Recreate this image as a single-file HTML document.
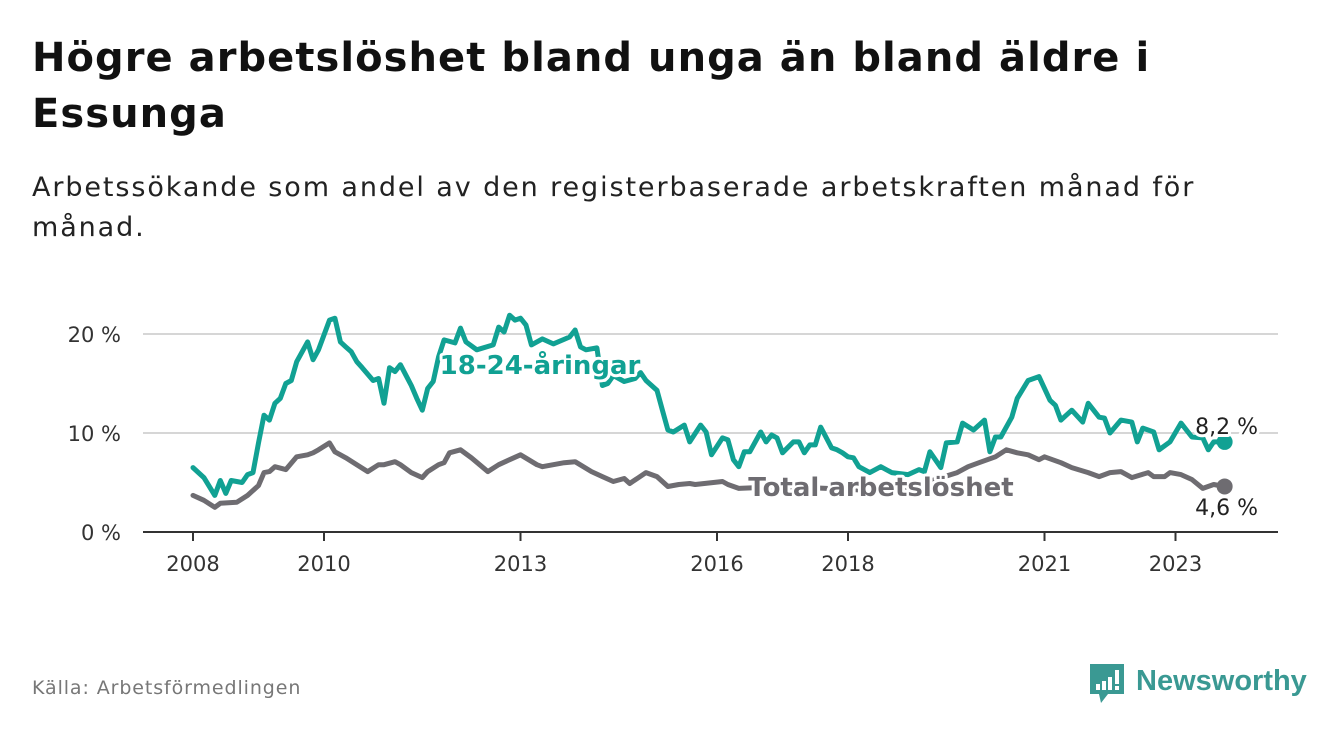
<!DOCTYPE html>
<html><head><meta charset="utf-8">
<style>
body{margin:0;width:1340px;height:734px;background:#fff;font-family:"DejaVu Sans",sans-serif;overflow:hidden;position:relative}
h1{position:absolute;left:32px;top:30px;margin:0;font-size:40px;line-height:56px;font-weight:bold;color:#111;letter-spacing:1.05px;white-space:nowrap}
.sub{position:absolute;left:32px;top:168px;font-size:27px;line-height:40px;color:#222;letter-spacing:1.9px;white-space:nowrap}
.src{position:absolute;left:32px;top:677px;font-size:19px;color:#777;letter-spacing:0.9px}
svg{position:absolute;left:0;top:0}
</style></head><body>
<h1>Högre arbetslöshet bland unga än bland äldre i<br>Essunga</h1>
<div class="sub">Arbetssökande som andel av den registerbaserade arbetskraften månad för<br>månad.</div>
<div class="src">Källa: Arbetsförmedlingen</div>
<svg id="chart" width="1340" height="734"></svg>
<svg width="1340" height="734">
<path d="M1090 664 h34 v30 h-16 l-7 9 l-2 -9 h-9 z" fill="#3a9993"/>
<rect x="1096" y="684" width="4" height="6" fill="#fff"/><rect x="1102" y="681" width="4" height="9" fill="#fff"/><rect x="1108" y="677" width="4" height="13" fill="#fff"/><rect x="1115" y="670" width="4" height="14" fill="#fff"/><rect x="1115" y="686" width="4" height="4" fill="#fff"/>
<text x="1136" y="690" font-family="Liberation Sans" font-size="29" font-weight="bold" fill="#3a9993">Newsworthy</text>
</svg>
<script>
const youthMonths=[0,2,4,5,6,7,9,10,11,12,13,14,15,16,17,18,19,21,22,23,25,26,27,28,29,30,31,33,34,35,36,37,38,40,41,42,43,44,45,46,48,49,50,52,55,56,57,58,59,60,61,62,64,66,69,70,71,72,74,75,76,77,79,81,82,83,85,86,87,88,90,91,93,94,95,97,98,99,100,101,102,104,105,106,107,108,110,111,112,113,114,115,117,118,119,120,121,122,124,126,128,131,133,134,135,137,138,140,141,143,145,146,147,148,150,151,153,155,157,158,159,160,161,163,164,166,167,168,170,172,173,174,176,177,179,181,183,185,186,187,189];
const youthValues=[6.5,5.5,3.7,5.2,3.9,5.2,5.0,5.8,6.0,9.0,11.8,11.3,13.0,13.5,15.0,15.3,17.2,19.2,17.4,18.4,21.4,21.6,19.2,18.7,18.2,17.2,16.6,15.3,15.5,13.0,16.6,16.2,16.9,14.8,13.5,12.3,14.5,15.2,17.7,19.4,19.1,20.6,19.2,18.4,18.9,20.7,20.2,21.9,21.4,21.6,20.9,18.9,19.5,19.0,19.7,20.4,18.7,18.4,18.6,14.8,15.0,15.8,15.2,15.5,16.1,15.3,14.3,12.3,10.3,10.1,10.8,9.1,10.8,10.1,7.8,9.5,9.3,7.3,6.6,8.1,8.1,10.1,9.1,9.8,9.5,8.0,9.1,9.1,8.0,8.8,8.8,10.6,8.5,8.3,8.0,7.6,7.5,6.6,6.0,6.6,6.0,5.8,6.3,6.1,8.1,6.5,9.0,9.1,11.0,10.3,11.3,8.1,9.6,9.6,11.6,13.5,15.3,15.7,13.3,12.8,11.3,11.8,12.3,11.1,13.0,11.6,11.5,10.0,11.3,11.1,9.1,10.5,10.1,8.3,9.1,11.0,9.6,9.5,8.3,9.1,9.1,8.2];
const totalMonths=[0,2,4,5,8,10,12,13,14,15,17,19,21,22,23,25,26,28,30,32,34,35,37,38,40,42,43,45,46,47,49,51,54,56,58,60,63,64,68,70,73,75,77,79,80,83,85,87,89,91,92,97,98,100,108,116,124,132,136,140,142,144,147,149,151,153,155,156,159,161,164,166,168,170,172,175,176,178,179,181,183,185,187,189];
const totalValues=[3.7,3.2,2.5,2.9,3.0,3.7,4.7,6.0,6.1,6.6,6.3,7.6,7.8,8.0,8.3,9.0,8.1,7.5,6.8,6.1,6.8,6.8,7.1,6.8,6.0,5.5,6.1,6.8,7.0,8.0,8.3,7.5,6.1,6.8,7.3,7.8,6.8,6.6,7.0,7.1,6.1,5.6,5.1,5.4,4.9,6.0,5.6,4.6,4.8,4.9,4.8,5.1,4.8,4.4,4.6,4.4,4.2,4.6,5.3,6.0,6.6,7.0,7.6,8.3,8.0,7.8,7.3,7.6,7.0,6.5,6.0,5.6,6.0,6.1,5.5,6.0,5.6,5.6,6.0,5.8,5.3,4.4,4.8,4.6];
const yTicks=[0,10,20];
const yTickLabels=["0 %","10 %","20 %"];
const xTickYears=[2008,2010,2013,2016,2018,2021,2023];

const NS="http://www.w3.org/2000/svg";
const svg=document.getElementById('chart');
const x0=193,pxYear=65.5;
const xm=m=>x0+m*pxYear/12;
const xy=yr=>x0+(yr-2008)*pxYear;
const ys=v=>532-v*9.9;
function mk(t,a){const e=document.createElementNS(NS,t);for(const k in a)e.setAttribute(k,a[k]);svg.appendChild(e);return e;}

yTicks.forEach((t,i)=>{
  const g=mk('line',{x1:143,x2:1278,y1:ys(t),y2:ys(t),stroke:t===0?'#333':'#d6d6d6','stroke-width':2});
  
  
  const l=mk('text',{x:121,y:ys(t)+8,'text-anchor':'end','font-size':21,fill:'#333'});
  l.textContent=yTickLabels[i];
  
  
});
xTickYears.forEach(yr=>{
  const t=mk('line',{x1:xy(yr),x2:xy(yr),y1:532,y2:541,stroke:'#333','stroke-width':2});
  
  
  const l=mk('text',{x:xy(yr),y:571,'text-anchor':'middle','font-size':21,fill:'#333'});
  l.textContent=yr;
  
  
});
function line(ms,vs,color,name){
  const d=ms.map((m,i)=>(i?'L':'M')+xm(m).toFixed(1)+' '+ys(vs[i]).toFixed(1)).join(' ');
  const p=mk('path',{d:d,fill:'none',stroke:color,'stroke-width':5,'stroke-linejoin':'round','stroke-linecap':'round'});
  
  
  const n=ms.length-1;
  const c=mk('circle',{cx:xm(ms[n]),cy:ys(vs[n]),r:8,fill:color});
  
  
}
line(totalMonths,totalValues,'#6e6c71','total-line');
line(youthMonths,youthValues,'#11a193','youth-line');
function lab(txt,x,y,color,size,weight,anchor,name){
  const t=mk('text',{x:x,y:y,fill:color,'font-size':size,'font-weight':weight,'text-anchor':anchor,stroke:'#fff','stroke-width':6,'paint-order':'stroke','stroke-linejoin':'round'});
  t.textContent=txt;
  
  
}
lab('18-24-åringar',540,374,'#11a193',26,'bold','middle','youth-series-label');
lab('Total arbetslöshet',881,496,'#6e6c71',26,'bold','middle','total-series-label');
lab('8,2 %',1258,434,'#222',22,'normal','end','youth-end-value');
lab('4,6 %',1258,515,'#222',22,'normal','end','total-end-value');
</script>
</body></html>
